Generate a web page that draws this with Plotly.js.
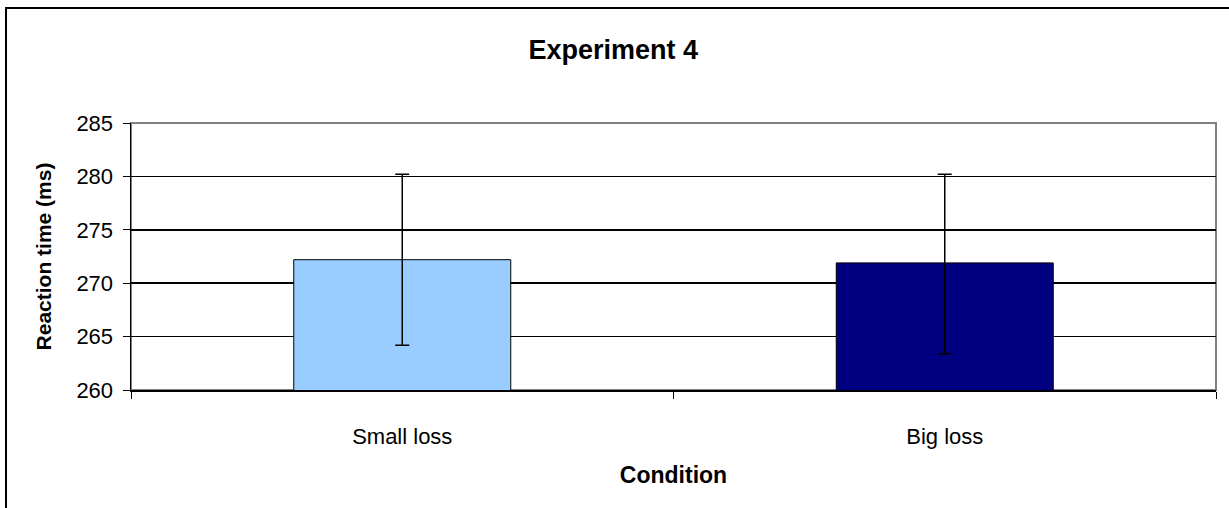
<!DOCTYPE html>
<html>
<head>
<meta charset="utf-8">
<script src="https://cdn.plot.ly/plotly-3.0.1.min.js"></script>
<style>
html,body{margin:0;padding:0;background:#fff;}
#chart{width:1229px;height:508px;}
</style>
</head>
<body>
<div id="chart"></div>
<script>
const categories = ["Small loss", "Big loss"];
const meanRT = [272.2, 271.9];
const errPlus = [8.0, 8.3];
const errMinus = [8.0, 8.5];
const barColors = ["#99CCFF", "#000080"];
const yTicks = [260, 265, 270, 275, 280, 285];

const L = 131, R = 13, T = 123, B = 118;
const W = 1229 - L - R, H = 508 - T - B;
const px = v => (v - L) / W;
const py = v => (508 - B - v) / H;

const trace = {
  type: "bar",
  x: categories,
  y: meanRT,
  marker: {color: barColors, line: {color: "#000", width: 1}},
  error_y: {type: "data", symmetric: false, array: errPlus, arrayminus: errMinus,
            color: "#000", thickness: 1.5, width: 7},
  hoverinfo: "none"
};

const font = "Liberation Sans, Arial, sans-serif";
const layout = {
  width: 1229, height: 508,
  margin: {l: L, r: R, t: T, b: B},
  paper_bgcolor: "#fff", plot_bgcolor: "#fff",
  showlegend: false,
  bargap: 0.6,
  font: {family: font, color: "#000", size: 22},
  title: {text: "<b>Experiment 4</b>", font: {family: font, size: 27, color: "#000"},
          x: 0.499, xanchor: "center", y: 1 - 50/508, yanchor: "middle"},
  xaxis: {
    type: "category",
    tickson: "boundaries", ticks: "outside", ticklen: 7, tickcolor: "#000", tickwidth: 1,
    showline: true, linecolor: "#000", linewidth: 2,
    ticklabelstandoff: 26,
    tickfont: {family: font, size: 22, color: "#000"},
    title: {text: "<b>Condition</b>", font: {family: font, size: 23, color: "#000"}, standoff: 18},
    showgrid: false, zeroline: false
  },
  yaxis: {
    range: [260, 285], tickvals: yTicks, ticktext: yTicks.map(String),
    ticks: "outside", ticklen: 7, tickcolor: "#000", tickwidth: 1,
    showline: true, linecolor: "#000", linewidth: 1.5,
    showgrid: true, gridcolor: "#000", gridwidth: 1.5,
    zeroline: false,
    ticklabelstandoff: 5,
    tickfont: {family: font, size: 22, color: "#000"},
    title: {text: "<b>Reaction time (ms)</b>", font: {family: font, size: 21, color: "#000"}, standoff: 19}
  },
  shapes: [
    {type: "rect", xref: "paper", yref: "paper", x0: 0, x1: 1, y0: 0, y1: 1,
     line: {color: "#808080", width: 2}, layer: "below"},
    {type: "rect", xref: "paper", yref: "paper", x0: px(6), x1: px(1250), y0: py(530), y1: py(8),
     line: {color: "#000", width: 2}, fillcolor: "rgba(0,0,0,0)"}
  ]
};

Plotly.newPlot("chart", [trace], layout, {staticPlot: true, displayModeBar: false});
</script>
</body>
</html>
